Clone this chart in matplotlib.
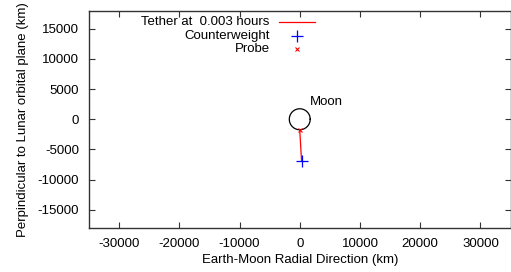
import matplotlib.pyplot as plt
import numpy as np

plt.rcParams['font.family'] = ['Liberation Sans', 'DejaVu Sans']
plt.rcParams['font.size'] = 9.5
plt.rcParams['axes.unicode_minus'] = False

# data (km)
moon_radius = 1737
probe_x = [0]
probe_y = [-1800]
cw_x = [300]
cw_y = [-6850]
tether_x = [0, 300]
tether_y = [-1800, -6850]
hours = 0.003

xticks = [-30000, -20000, -10000, 0, 10000, 20000, 30000]
yticks = [-15000, -10000, -5000, 0, 5000, 10000, 15000]

fig = plt.figure(figsize=(5.11, 2.72), dpi=100)
ax = fig.add_axes([89 / 511, 44 / 272, 421.5 / 511, 217.5 / 272])

th = np.linspace(0, 2 * np.pi, 200)
ax.plot(moon_radius * np.cos(th), moon_radius * np.sin(th), color='black', lw=0.9)
ax.text(1650, 2850, 'Moon', ha='left', va='center')

ax.plot(tether_x, tether_y, color='red', lw=0.9)
ax.plot(cw_x, cw_y, ls='none', marker='+', color='blue', ms=8, mew=0.9)
ax.plot(probe_x, probe_y, ls='none', marker='x', color='red', ms=3.5, mew=0.8)

# key, gnuplot style
tr = ax.transAxes
rows = [0.945, 0.882, 0.825]
ax.text(0.429, rows[0], 'Tether at  %.3f hours' % hours, transform=tr, ha='right', va='center')
ax.text(0.429, rows[1], 'Counterweight', transform=tr, ha='right', va='center')
ax.text(0.429, rows[2], 'Probe', transform=tr, ha='right', va='center')
ax.plot([0.450, 0.535], [rows[0], rows[0]], transform=tr, color='red', lw=0.9)
ax.plot([0.494], [rows[1]], transform=tr, marker='+', color='blue', ms=8, mew=0.9)
ax.plot([0.494], [rows[2]], transform=tr, marker='x', color='red', ms=3.5, mew=0.8)

ax.set_xlim(-35000, 35000)
ax.set_ylim(-18000, 18000)
ax.set_xticks(xticks)
ax.set_yticks(yticks)
ax.tick_params(direction='in', top=True, right=True, length=4.5, width=0.8,
               color='#333333', labelsize=9.5, pad=7)
for s in ax.spines.values():
    s.set_color('#333333')
    s.set_linewidth(1.0)

ax.set_xlabel('Earth-Moon Radial Direction (km)', labelpad=3)
ax.set_ylabel('Perpindicular to Lunar orbital plane (km)', labelpad=6)

fig.savefig('out.png', dpi=100)
